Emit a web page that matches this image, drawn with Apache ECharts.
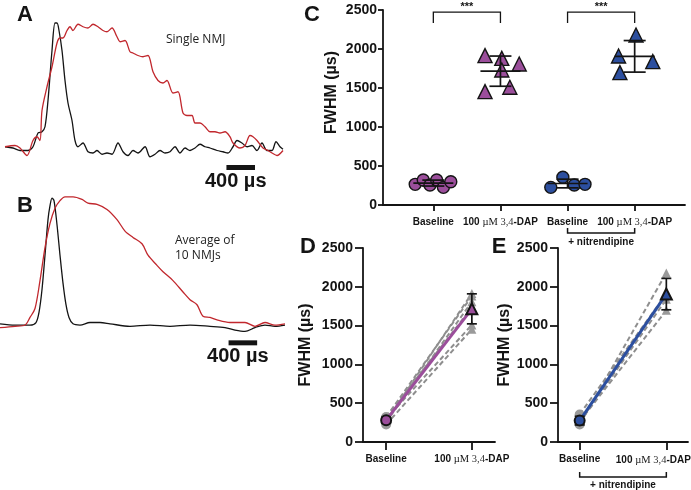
<!DOCTYPE html>
<html><head><meta charset="utf-8">
<script src="https://cdn.jsdelivr.net/npm/echarts@6/dist/echarts.min.js"></script>
<style>html,body{margin:0;padding:0;background:#fff}#c{width:691px;height:490px}</style>
</head><body><div id="c"></div>
<script>
// ---------- Panel A: single NMJ traces  [time µs, normalised amplitude] ----------
const traceA_black = [[0,0.01],[112,0],[210,-0.02],[322,-0.02],[392,0.01],[462,0.12],[518,0.13],[560,0.17],[602,0.38],[658,0.78],[700,1.0],[728,1.0],[756,0.94],[798,0.78],[840,0.54],[882,0.36],[938,0.22],[980,0.06],[1022,0.01],[1092,0.04],[1162,-0.03],[1232,-0.04],[1288,-0.02],[1358,-0.05],[1428,-0.04],[1498,-0.05],[1582,0.04],[1652,-0.03],[1722,-0.06],[1792,-0.02],[1862,-0.04],[1960,0.01],[2030,-0.07],[2100,-0.05],[2170,-0.02],[2240,-0.04],[2310,-0.03],[2380,0.01],[2450,-0.04],[2520,0],[2590,-0.02],[2660,0],[2730,0.03],[2800,0.01],[2870,0],[2968,-0.02],[3052,-0.03],[3122,-0.04],[3192,0.01],[3248,0.06],[3318,0.04],[3388,0.01],[3458,0.02],[3528,-0.02],[3598,0.04],[3668,-0.02],[3738,-0.02],[3794,0.05],[3850,0.01],[3892,-0.01]];
const traceA_red = [[0,0.01],[140,0.02],[210,0],[308,-0.06],[392,0.06],[448,0.09],[490,0.06],[518,0.30],[588,0.49],[658,0.65],[728,0.84],[770,0.88],[812,0.88],[868,0.94],[910,0.97],[952,0.94],[1022,0.99],[1092,0.97],[1162,0.96],[1232,0.99],[1302,0.97],[1372,0.94],[1428,0.93],[1498,0.96],[1568,0.89],[1610,0.85],[1680,0.86],[1750,0.77],[1792,0.76],[1862,0.74],[1932,0.73],[2002,0.74],[2072,0.61],[2142,0.54],[2212,0.52],[2268,0.54],[2352,0.44],[2422,0.45],[2492,0.28],[2548,0.26],[2618,0.26],[2660,0.2],[2730,0.2],[2800,0.17],[2870,0.13],[2940,0.13],[3010,0.12],[3080,0.13],[3150,0.09],[3192,0.04],[3290,0],[3360,0.02],[3430,0.1],[3472,0.09],[3528,0.06],[3612,0],[3682,-0.02],[3738,-0.04],[3808,-0.06],[3892,-0.02]];
// ---------- Panel B: average of 10 NMJs ----------
const traceB_black = [[0,0.01],[210,0],[420,0],[504,0.02],[546,0.10],[588,0.28],[630,0.55],[672,0.83],[700,0.94],[728,1.0],[756,0.98],[798,0.79],[840,0.55],[882,0.33],[924,0.16],[966,0.06],[1022,0.01],[1120,0],[1260,0.02],[1400,0.02],[1540,0.01],[1820,-0.01],[2100,0],[2380,-0.01],[2660,0],[2940,-0.01],[3150,-0.02],[3290,-0.04],[3430,-0.05],[3570,-0.02],[3710,0],[3850,-0.01],[3990,0]];
const traceB_red = [[0,-0.02],[210,-0.01],[350,0],[420,0.06],[490,0.13],[560,0.35],[630,0.61],[700,0.80],[770,0.92],[840,0.98],[910,1.01],[1022,1.01],[1148,0.99],[1232,0.96],[1358,0.95],[1498,0.91],[1638,0.83],[1750,0.74],[1862,0.69],[1988,0.64],[2072,0.55],[2198,0.47],[2282,0.42],[2422,0.35],[2562,0.26],[2660,0.20],[2758,0.16],[2842,0.07],[2940,0.06],[3038,0.04],[3220,0.02],[3430,0.02],[3570,-0.01],[3710,0.02],[3850,0],[3990,0.01]];
const scaleBarLen = 400;          // µs
const scaleBarLabel = '400 µs';
const scaleBarA = [3100, -0.156];
const scaleBarB = [3200, -0.14];
const textA = 'Single NMJ';
const textB = ['Average of', '10 NMJs'];

// ---------- Panels C-E: FWHM (µs) ----------
const catLabels = ['Baseline', '100 µM 3,4-DAP', 'Baseline', '100 µM 3,4-DAP'];
const nitLabel = '+ nitrendipine';
const yTicks = [0, 500, 1000, 1500, 2000, 2500];
const baseCtrlVals   = [265, 320, 256, 320, 226, 299];
const baseCtrlJitter = [-0.27, -0.15, -0.05, 0.05, 0.15, 0.26];
const dapCtrlVals    = [1915, 1880, 1808, 1731, 1453, 1509];
const dapCtrlJitter  = [-0.23, 0.02, 0.28, 0.02, -0.23, 0.14];
const baseNitVals    = [226, 355, 256, 265];
const baseNitJitter  = [-0.25, -0.07, 0.10, 0.26];
const dapNitVals     = [2179, 1910, 1838, 1697];
const dapNitJitter   = [0.02, -0.24, 0.27, -0.22];
const sigPairs = [[0, 1], [2, 3]];
const sigLevel = 2474;
const sigText = '***';

// ---------- helpers ----------
const mean = a => a.reduce((s, v) => s + v, 0) / a.length;
const sd = a => { const m = mean(a); return Math.sqrt(a.reduce((s, v) => s + (v - m) * (v - m), 0) / (a.length - 1)); };
const PURPLE = '#9B4E9B', BLUE = '#2C4F9F', GRAY = '#8E8E8E', INK = '#141414', RED = '#C1272D';
const FONT = 'Liberation Sans, Arial, sans-serif';

function fmtCat(shift) {
  return function (v) {
    const s = catLabels[Math.round(v)] || '';
    const m = s.match(/^(\d+) (µM) (3,4)(-DAP)$/);
    const tail = shift ? '{gap|}' : '';
    return m ? `{b|${m[1]} }{m|${m[2]} }{s|${m[3]}}{b|${m[4]}}${tail}` : `{b|${s}}`;
  };
}
const richCat = {
  b: { fontFamily: FONT, fontWeight: 'bold', fontSize: 10, color: INK },
  m: { fontFamily: 'Liberation Serif, serif', fontSize: 10.5, color: INK },
  s: { fontFamily: 'Liberation Serif, serif', fontSize: 10.5, color: '#333' },
  gap: { width: 26 }
};

function catXAxis(grid, min, max, vals, tickLen, shift) {
  return {
    gridIndex: grid, type: 'value', min, max,
    axisLine: { onZero: false, lineStyle: { color: INK, width: 1.8 } },
    axisTick: { customValues: vals, length: tickLen, lineStyle: { color: INK, width: 1.8 } },
    axisLabel: { customValues: vals, formatter: fmtCat(shift), rich: richCat, margin: 12, hideOverlap: false },
    splitLine: { show: false }
  };
}
function fwhmYAxis(grid, tickLen, margin, gap, lift) {
  return {
    gridIndex: grid, type: 'value', min: 0, max: 2500, interval: 500,
    name: 'FWHM (µs)', nameLocation: 'middle', nameGap: gap, nameMoveOverlap: false,
    nameTextStyle: { fontFamily: FONT, fontWeight: 'bold', fontSize: 16, color: INK, padding: [0, 0, 0, lift] },
    axisLine: { show: true, onZero: false, lineStyle: { color: INK, width: 1.8 } },
    axisTick: { show: true, length: tickLen, lineStyle: { color: INK, width: 1.8 } },
    axisLabel: { customValues: yTicks, formatter: v => String(v), fontFamily: FONT, fontWeight: 'bold', fontSize: 14, color: INK, margin },
    splitLine: { show: false }
  };
}

function meanSdRender(halfMean, halfCap) {
  return function (params, api) {
    const x = api.value(0), m = api.value(1), s = api.value(2);
    const c = api.coord([x, m]), t = api.coord([x, m + s]), b = api.coord([x, m - s]);
    const st = { stroke: INK, lineWidth: 1.7 };
    const ch = [
      { type: 'line', shape: { x1: c[0], y1: t[1], x2: c[0], y2: b[1] }, style: st },
      { type: 'line', shape: { x1: c[0] - halfCap, y1: t[1], x2: c[0] + halfCap, y2: t[1] }, style: st },
      { type: 'line', shape: { x1: c[0] - halfCap, y1: b[1], x2: c[0] + halfCap, y2: b[1] }, style: st }
    ];
    if (halfMean > 0) ch.push({ type: 'line', shape: { x1: c[0] - halfMean, y1: c[1], x2: c[0] + halfMean, y2: c[1] }, style: st });
    return { type: 'group', children: ch };
  };
}

function scaleBarSeries(grid, bar) {
  return {
    type: 'custom', xAxisIndex: grid, yAxisIndex: grid, clip: false, z: 5,
    data: [[bar[0], bar[1], scaleBarLen]],
    encode: { x: 0, y: 1 },
    renderItem(params, api) {
      const p1 = api.coord([api.value(0), api.value(1)]);
      const p2 = api.coord([api.value(0) + api.value(2), api.value(1)]);
      return { type: 'group', children: [
        { type: 'rect', shape: { x: p1[0], y: p1[1] - 2.5, width: p2[0] - p1[0], height: 5 }, style: { fill: INK } },
        { type: 'text', x: (p1[0] + p2[0]) / 2 - 5, y: p1[1] + 14, style: { text: scaleBarLabel, font: 'bold 20px ' + FONT, fill: INK, textAlign: 'center', textVerticalAlign: 'middle' } }
      ]};
    }
  };
}

function traceSeries(grid, data, color) {
  return { type: 'line', xAxisIndex: grid, yAxisIndex: grid, data, smooth: 0.3, showSymbol: false, symbol: 'none',
    lineStyle: { color, width: 1.3 }, silent: true, animation: false };
}

function scatter(grid, data, symbol, size, color, border, bw, z) {
  return { type: 'scatter', xAxisIndex: grid, yAxisIndex: grid, data, symbol, symbolSize: size,
    itemStyle: { color, borderColor: border, borderWidth: bw, opacity: 1 }, z: z || 3, animation: false };
}

function nitBracket(grid, x1, x2, o1, o2, o3) {
  return {
    type: 'custom', xAxisIndex: grid, yAxisIndex: grid, clip: false, z: 5,
    data: [[x1, x2, 0]], encode: { x: [0, 1], y: 2 },
    renderItem(params, api) {
      const a = api.coord([api.value(0), 0]), b = api.coord([api.value(1), 0]);
      return { type: 'group', children: [
        { type: 'polyline', shape: { points: [[a[0], a[1] + o1], [a[0], a[1] + o2], [b[0], b[1] + o2], [b[0], b[1] + o1]] }, style: { stroke: INK, lineWidth: 1.5, fill: null } },
        { type: 'text', x: (a[0] + b[0]) / 2, y: a[1] + o3, style: { text: nitLabel, font: 'bold 10px ' + FONT, fill: INK, textAlign: 'center', textVerticalAlign: 'middle' } }
      ]};
    }
  };
}

function pairedSeries(grid, baseVals, dapVals, color) {
  const out = [];
  baseVals.forEach((b, i) => {
    out.push({ type: 'line', xAxisIndex: grid, yAxisIndex: grid, data: [[0, b], [1, dapVals[i]]], symbol: 'none',
      lineStyle: { color: GRAY, width: 2, type: [5, 3] }, z: 2, animation: false });
  });
  out.push(scatter(grid, baseVals.map(v => [0, v]), 'circle', 10, '#9a9a9a', '#9a9a9a', 0, 2));
  out.push(scatter(grid, dapVals.map(v => [1, v]), 'triangle', 9, '#9a9a9a', '#9a9a9a', 0, 2));
  const mb = mean(baseVals), md = mean(dapVals);
  out.push({ type: 'line', xAxisIndex: grid, yAxisIndex: grid, data: [[0, mb], [1, md]], symbol: 'none',
    lineStyle: { color, width: 3 }, z: 4, animation: false });
  out.push({ type: 'custom', xAxisIndex: grid, yAxisIndex: grid, z: 5, clip: false, encode: { x: 0, y: 1 },
    data: [[0, mb, sd(baseVals)], [1, md, sd(dapVals)]], renderItem: meanSdRender(0, 5) });
  out.push(scatter(grid, [[0, mb]], 'circle', 10, color, INK, 2, 6));
  out.push(scatter(grid, [[1, md]], 'triangle', 11, color, INK, 2, 6));
  return out;
}

const series = [
  traceSeries(0, traceA_black, INK), traceSeries(0, traceA_red, RED), scaleBarSeries(0, scaleBarA),
  traceSeries(1, traceB_black, INK), traceSeries(1, traceB_red, RED), scaleBarSeries(1, scaleBarB),
  // C
  scatter(2, baseCtrlVals.map((v, i) => [0 + baseCtrlJitter[i], v]), 'circle', 12, PURPLE, INK, 1.4),
  scatter(2, dapCtrlVals.map((v, i) => [1 + dapCtrlJitter[i], v]), 'triangle', 14, PURPLE, INK, 1.4),
  scatter(2, baseNitVals.map((v, i) => [2 + baseNitJitter[i], v]), 'circle', 12, BLUE, INK, 1.4),
  scatter(2, dapNitVals.map((v, i) => [3 + dapNitJitter[i], v]), 'triangle', 14, BLUE, INK, 1.4),
  { type: 'custom', xAxisIndex: 2, yAxisIndex: 2, z: 5, clip: false, encode: { x: 0, y: 1 },
    data: [[0, mean(baseCtrlVals), sd(baseCtrlVals)], [1, mean(dapCtrlVals), sd(dapCtrlVals)],
           [2, mean(baseNitVals), sd(baseNitVals)], [3, mean(dapNitVals), sd(dapNitVals)]],
    renderItem: meanSdRender(20, 11) },
  { type: 'custom', xAxisIndex: 2, yAxisIndex: 2, z: 5, clip: false, encode: { x: [0, 1], y: 2 },
    data: sigPairs.map(p => [p[0], p[1], sigLevel]),
    renderItem(params, api) {
      const a = api.coord([api.value(0), api.value(2)]), b = api.coord([api.value(1), api.value(2)]);
      return { type: 'group', children: [
        { type: 'polyline', shape: { points: [[a[0], a[1] + 11], [a[0], a[1]], [b[0], b[1]], [b[0], b[1] + 11]] }, style: { stroke: INK, lineWidth: 1.3, fill: null } },
        { type: 'text', x: (a[0] + b[0]) / 2, y: a[1] - 5, style: { text: sigText, font: 'bold 11px ' + FONT, fill: INK, textAlign: 'center', textVerticalAlign: 'middle' } }
      ]};
    } },
  nitBracket(2, 2, 3, 23, 28, 37),
  // D
  ...pairedSeries(3, baseCtrlVals, dapCtrlVals, PURPLE),
  // E
  ...pairedSeries(4, baseNitVals, dapNitVals, BLUE),
  nitBracket(4, 0, 1, 30, 35, 43)
];

const letter = (t, x, y) => ({ type: 'text', x, y, style: { text: t, font: 'bold 22px ' + FONT, fill: INK, textAlign: 'center', textVerticalAlign: 'middle' } });
const note = (t, x, y) => ({ type: 'text', x, y, style: { text: t, font: '12px "Open Sans", sans-serif', fill: '#222', textAlign: 'left', textVerticalAlign: 'middle' } });

const option = {
  animation: false,
  backgroundColor: '#fff',
  grid: [
    { left: 5, top: 16.75, width: 280, height: 162.5, outerBoundsMode: 'none' },
    { left: 0, top: 191.7, width: 287, height: 171.45, outerBoundsMode: 'none' },
    { left: 383, top: 10, width: 302, height: 195, outerBoundsMode: 'none' },
    { left: 363, top: 248, width: 132, height: 194, outerBoundsMode: 'none' },
    { left: 558, top: 248, width: 130, height: 194, outerBoundsMode: 'none' }
  ],
  xAxis: [
    { gridIndex: 0, type: 'value', min: 0, max: 3920, show: false },
    { gridIndex: 1, type: 'value', min: 0, max: 4018, show: false },
    catXAxis(2, -0.75, 3.75, [0, 1, 2, 3], 6, false),
    catXAxis(3, -0.27, 1.27, [0, 1], 8, false),
    catXAxis(4, -0.25, 1.25, [0, 1], 8, true)
  ],
  yAxis: [
    { gridIndex: 0, type: 'value', min: -0.25, max: 1.05, show: false },
    { gridIndex: 1, type: 'value', min: -0.3, max: 1.05, show: false },
    fwhmYAxis(2, 5, 6, 43, 30),
    fwhmYAxis(3, 8, 10, 49, 0),
    fwhmYAxis(4, 8, 10, 45, 0)
  ],
  graphic: [
    letter('A', 25, 15), letter('B', 25, 206), letter('C', 312, 15), letter('D', 308, 247), letter('E', 499, 247),
    note(textA, 166, 40), note(textB[0], 175, 241), note(textB[1], 175, 256)
  ],
  series
};
const chart = echarts.init(document.getElementById('c'));
chart.setOption(option);
</script>
</body></html>
